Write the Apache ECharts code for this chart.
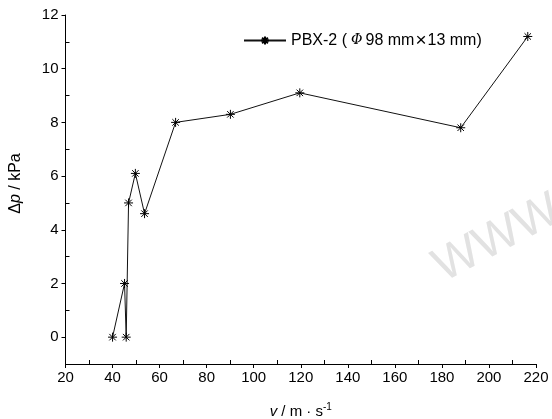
<!DOCTYPE html>
<html><head><meta charset="utf-8">
<script src="https://cdn.jsdelivr.net/npm/echarts@6/dist/echarts.min.js"></script>
<style>html,body{margin:0;padding:0;background:#fff}#c{width:552px;height:419px}</style>
</head><body><div id="c"></div>
<script>
var velocity = [40, 45.1, 45.8, 46.8, 49.7, 53.6, 66.8, 90.1, 119.6, 188, 216.5];
var pressure = [0, 2, 0, 5, 6.1, 4.6, 8.0, 8.3, 9.1, 7.8, 11.2];
var seriesName = 'PBX-2';
var xMinor = [30, 50, 70, 90, 110, 130, 150, 170, 190, 210];
var yMinor = [1, 3, 5, 7, 9, 11];
var yMajor = [0, 2, 4, 6, 8, 10, 12];

var F = '"Liberation Sans", Arial, sans-serif';
var star = 'path://M0,-5L0,5M-5,0L5,0M-3.6,-3.6L3.6,3.6M-3.6,3.6L3.6,-3.6';
var chart = echarts.init(document.getElementById('c'), null, {renderer: 'canvas'});
chart.setOption({
  animation: false,
  grid: {left: 65.5, right: 16, top: 15, bottom: 55, containLabel: false, outerBoundsMode: 'none'},
  legend: {
    left: 238, top: 26,
    itemWidth: 42, itemHeight: 10, itemGap: 5,
    data: [{name: seriesName}],
    formatter: function () { return '{n|PBX-2 (}{i|Φ}{n|98 mm}{x|×}{n|13 mm)}'; },
    textStyle: {
      fontFamily: F, fontSize: 16, color: '#000',
      rich: {
        n: {fontFamily: F, fontSize: 16, color: '#000'},
        i: {fontFamily: '"DejaVu Serif", serif', fontStyle: 'italic', fontSize: 14, color: '#000', padding: [0, 3, 0, 4]},
        x: {fontFamily: F, fontSize: 19, color: '#000', padding: [0, 1, 0, 1]}
      }
    }
  },
  xAxis: [{
    type: 'value', min: 20, max: 220, interval: 20,
    axisLine: {onZero: false, lineStyle: {color: '#000', width: 1}},
    axisTick: {show: true, inside: false, length: 4, lineStyle: {color: '#000'}},
    splitLine: {show: false},
    axisLabel: {color: '#000', fontFamily: F, fontSize: 15, margin: 6},
    name: '{i|v}{n| / m · s}{s|-1}', nameLocation: 'middle', nameGap: 38,
    nameTextStyle: {rich: {
      i: {fontFamily: F, fontStyle: 'italic', fontSize: 15, color: '#000'},
      n: {fontFamily: F, fontSize: 15, color: '#000'},
      s: {fontFamily: F, fontSize: 10, color: '#000', padding: [0, 0, 9, 0]}
    }}
  }, {
    type: 'value', min: 20, max: 220, position: 'bottom',
    axisLine: {show: false, onZero: false},
    axisTick: {show: true, inside: true, length: 4, customValues: xMinor, lineStyle: {color: '#000'}},
    axisLabel: {show: false}, splitLine: {show: false}
  }],
  yAxis: [{
    type: 'value', min: -1, max: 12, interval: 2,
    axisLine: {show: true, onZero: false, lineStyle: {color: '#000', width: 1}},
    axisTick: {show: true, inside: false, length: 4, customValues: yMajor, lineStyle: {color: '#000'}},
    axisLabel: {color: '#000', fontFamily: F, fontSize: 15, margin: 7, customValues: yMajor},
    splitLine: {show: false},
    name: '{n|Δ}{i|p}{n| / kPa}', nameLocation: 'middle', nameGap: 42, nameRotate: 90,
    nameTextStyle: {padding: [0, 0, 0, 12], rich: {
      i: {fontFamily: F, fontStyle: 'italic', fontSize: 16, color: '#000'},
      n: {fontFamily: F, fontSize: 16, color: '#000'}
    }}
  }, {
    type: 'value', min: -1, max: 12, position: 'left',
    axisLine: {show: false, onZero: false},
    axisTick: {show: true, inside: true, length: 4, customValues: yMinor, lineStyle: {color: '#000'}},
    axisLabel: {show: false}, splitLine: {show: false}
  }],
  graphic: [{
    type: 'text', left: 426, top: 186, rotation: Math.PI / 6.5,
    style: {text: 'WWW', font: '48px "Liberation Sans", sans-serif', fill: '#e2e2e2'},
    silent: true, z: -1
  }],
  series: [{
    name: seriesName, type: 'line',
    data: velocity.map(function (v, i) { return [v, pressure[i]]; }),
    symbol: star, symbolSize: 9, showSymbol: true,
    lineStyle: {color: '#111', width: 1},
    itemStyle: {color: '#000', borderColor: '#000', borderWidth: 1}
  }]
});
</script></body></html>
